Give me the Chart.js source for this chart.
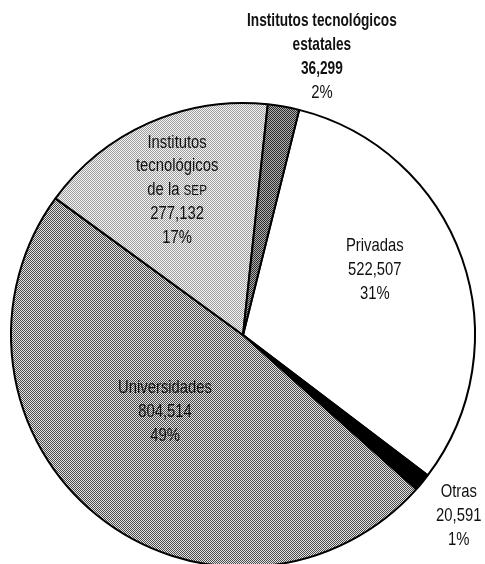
<!DOCTYPE html>
<html>
<head>
<meta charset="utf-8">
<script src="https://cdn.jsdelivr.net/npm/chart.js@4"></script>
<style>
  html, body { margin: 0; padding: 0; background: #fff; overflow: hidden; }
  #wrap { position: absolute; left: 0; top: 0; width: 485px; height: 580px; }
</style>
</head>
<body>
<div id="wrap"><canvas id="pie"></canvas></div>
<script>
// ===== datos (orden de dibujo, en sentido horario) =====
const categorias = ['Privadas', 'Otras', 'Universidades', 'Institutos tecnológicos de la SEP', 'Institutos tecnológicos estatales'];
const alumnos = [522507, 20591, 804514, 277132, 36299];
const porcentajes = [31, 1, 49, 17, 2];
const lineasNombre = [
  ['Privadas'],
  ['Otras'],
  ['Universidades'],
  ['Institutos', 'tecnológicos', 'de la SEP'],
  ['Institutos tecnológicos', 'estatales']
];

// posición de cada etiqueta, relativa al centro y en unidades del radio
const posEtiqueta = [
  { dx: 0.568, dy: -0.280 },
  { dx: 0.930, dy: 0.780 },
  { dx: -0.336, dy: 0.332 },
  { dx: -0.284, dy: -0.625 },
  { dx: 0.340, dy: -1.200 }
];

// tramas punteadas tipo impresión
function trama(a, b) {
  const c = document.createElement('canvas');
  c.width = 2; c.height = 2;
  const g = c.getContext('2d');
  g.fillStyle = b; g.fillRect(0, 0, 2, 2);
  g.fillStyle = a; g.fillRect(0, 0, 1, 1); g.fillRect(1, 1, 1, 1);
  return g.createPattern(c, 'repeat');
}

const colores = [
  '#ffffff',
  '#000000',
  trama('#4a4a4a', '#e4e4e4'),
  trama('#9c9c9c', '#f6f6f6'),
  trama('#2a2a2a', '#b0b0b0')
];

const etiquetas = {
  id: 'etiquetas',
  afterDraw(chart) {
    const { ctx } = chart;
    const meta = chart.getDatasetMeta(0);
    const lh = 23.8;
    meta.data.forEach((arc, i) => {
      const R = arc.outerRadius;
      const x = arc.x + posEtiqueta[i].dx * R;
      const y = arc.y + posEtiqueta[i].dy * R;
      const negrita = i === 4;
      const lineas = [...lineasNombre[i], alumnos[i].toLocaleString('en-US'), porcentajes[i] + '%'];
      const y0 = y - (lineas.length - 1) * lh / 2;
      lineas.forEach((txt, k) => {
        const bold = negrita && k < lineas.length - 1;
        ctx.save();
        ctx.translate(x, y0 + k * lh);
        ctx.scale(bold ? 0.72 : 0.78, 1);
        ctx.fillStyle = '#111';
        ctx.textBaseline = 'middle';
        const fam = '"Liberation Sans", Arial, sans-serif';
        if (txt.endsWith('SEP')) {
          // "SEP" en versalitas
          const a = txt.slice(0, -3);
          ctx.font = '19px ' + fam;
          const wa = ctx.measureText(a).width;
          ctx.font = '15px ' + fam;
          const wb = ctx.measureText('SEP').width;
          let sx = -(wa + wb) / 2;
          ctx.textAlign = 'left';
          ctx.font = '19px ' + fam;
          ctx.fillText(a, sx, 0);
          ctx.font = '15px ' + fam;
          ctx.fillText('SEP', sx + wa, 1);
        } else {
          ctx.font = (bold ? 'bold ' : '') + '19px ' + fam;
          ctx.textAlign = 'center';
          ctx.fillText(txt, 0, 0);
        }
        ctx.restore();
      });
    });
  }
};

new Chart(document.getElementById('pie'), {
  type: 'pie',
  data: {
    labels: categorias,
    datasets: [{
      data: alumnos,
      backgroundColor: colores,
      borderColor: '#000',
      borderWidth: 2
    }]
  },
  options: {
    responsive: true,
    maintainAspectRatio: false,
    devicePixelRatio: 1,
    animation: false,
    rotation: 14,
    layout: { padding: { top: 102, left: 10, right: 9, bottom: 12 } },
    plugins: {
      legend: { display: false },
      tooltip: { enabled: false }
    }
  },
  plugins: [etiquetas]
});
</script>
</body>
</html>
